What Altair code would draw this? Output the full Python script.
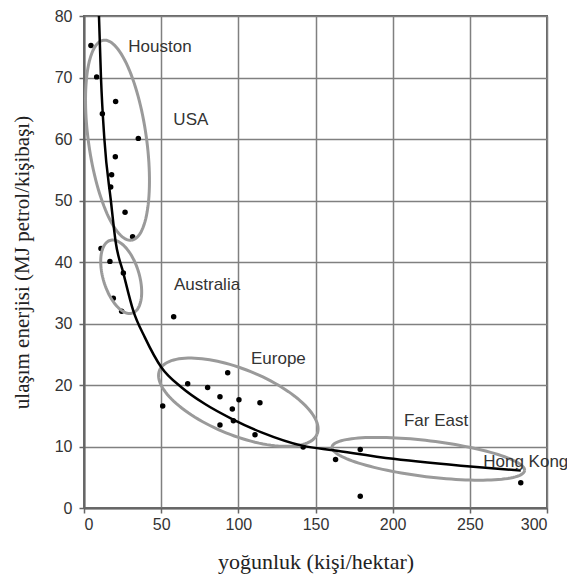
import altair as alt
import numpy as np
import pandas as pd

# ---- scatter data (density, transport energy) ----
pt_x = [4.5, 8.2, 11.9, 20.5, 35.2, 20.3, 17.9, 17.3, 26.6, 31.5,
        11.0, 16.8, 25.5, 19.0, 24.4,
        58.1,
        51.0, 67.2, 80.1, 93.1, 88.1, 100.4, 96.1, 114.0, 96.8, 88.1, 110.8,
        142.0, 163.0, 179.0, 179.0, 283.0]
pt_y = [75.2, 70.1, 64.1, 66.1, 60.1, 57.1, 54.2, 52.2, 48.1, 44.1,
        42.2, 40.1, 38.2, 34.1, 32.0,
        31.1,
        16.6, 20.2, 19.6, 22.0, 18.1, 17.6, 16.1, 17.1, 14.2, 13.5, 11.9,
        9.9, 7.9, 9.5, 1.9, 4.1]

# ---- fitted curve ----
curve_x = [9.7, 11.0, 13.2, 17.4, 20.5, 25.5, 32.0, 39.5, 50.3, 63.3, 78.4,
           95.7, 115.0, 142.0, 161.5, 200.4, 252.3, 283.0]
curve_y = [80.0, 70.0, 60.0, 50.0, 43.3, 38.2, 32.0, 27.7, 22.8, 19.6, 16.9,
           14.5, 12.3, 10.1, 9.4, 8.0, 6.7, 6.1]

# ---- group labels ----
label_text = ["Houston", "USA", "Australia", "Europe", "Far East", "Hong Kong"]
label_x = [28.7, 57.9, 58.3, 108.2, 207.3, 258.7]
label_y = [74.9, 63.1, 36.2, 24.2, 14.2, 7.5]

# ---- group ellipses: centre (data units), semi-axes (px), rotation (deg) ----
ell_name = ["Houston/USA", "Australia", "Europe", "Far East"]
ell_cx = [21.7, 24.1, 100.0, 223.1]
ell_cy = [59.8, 37.6, 17.2, 8.0]
ell_a = [101, 38, 85, 97]
ell_b = [29, 18, 33, 18]
ell_rot = [82, 73, 22, 7]

W, H = 463, 492
SX, SY = W / 300.0, H / 80.0

rows = []
t = np.linspace(0, 2 * np.pi, 121)
for n, cx, cy, a, b, r in zip(ell_name, ell_cx, ell_cy, ell_a, ell_b, ell_rot):
    th = np.deg2rad(r)
    dx = a * np.cos(t) * np.cos(th) - b * np.sin(t) * np.sin(th)
    dy = a * np.cos(t) * np.sin(th) + b * np.sin(t) * np.cos(th)
    for i in range(len(t)):
        rows.append({"g": n, "i": i, "x": cx + dx[i] / SX, "y": cy - dy[i] / SY})
ell_df = pd.DataFrame(rows)

pts = pd.DataFrame({"x": pt_x, "y": pt_y})
crv = pd.DataFrame({"x": curve_x, "y": curve_y})
lbl = pd.DataFrame({"t": label_text, "x": label_x, "y": label_y})

xs = alt.Scale(domain=[0, 300], nice=False)
ys = alt.Scale(domain=[0, 80], nice=False)

xax = alt.Axis(values=[0, 50, 100, 150, 200, 250, 300], title="yoğunluk (kişi/hektar)",
               titleY=53, titleBaseline="middle", titleFontSize=22)
yax = alt.Axis(values=[0, 10, 20, 30, 40, 50, 60, 70, 80],
               title="ulaşım enerjisi (MJ petrol/kişibaşı)",
               titleX=-62, titleBaseline="middle", titleAngle=270, titleFontSize=21)

points = alt.Chart(pts).mark_circle(size=30, color="black", opacity=1).encode(
    x=alt.X("x:Q", scale=xs, axis=xax),
    y=alt.Y("y:Q", scale=ys, axis=yax),
)

ellipses = alt.Chart(ell_df).mark_line(color="#9a9a9a", strokeWidth=3).encode(
    x=alt.X("x:Q", scale=xs),
    y=alt.Y("y:Q", scale=ys),
    detail="g:N",
    order="i:Q",
)

curve = alt.Chart(crv).mark_line(color="black", strokeWidth=2.5, interpolate="monotone").encode(
    x=alt.X("x:Q", scale=xs),
    y=alt.Y("y:Q", scale=ys),
)

labels = alt.Chart(lbl).mark_text(align="left", baseline="middle", font="Liberation Sans",
                                  fontSize=17, color="#333333").encode(
    x=alt.X("x:Q", scale=xs),
    y=alt.Y("y:Q", scale=ys),
    text="t:N",
)

chart = alt.layer(points, ellipses, curve, labels).properties(
    width=W, height=H,
    autosize=alt.AutoSizeParams(type="none"),
    padding={"left": 76, "top": 8, "right": 20, "bottom": 67},
).configure_view(
    stroke="#666666", strokeWidth=2,
).configure_axis(
    grid=True, gridColor="#808080", gridWidth=1.5,
    domainColor="#666666", domainWidth=2,
    tickColor="#666666", tickWidth=1.5, tickSize=5,
    labelFont="Liberation Sans", labelFontSize=16, labelColor="#333333",
    titleFont="Liberation Serif", titleFontWeight="normal",
    titleColor="#222222",
).configure_axisX(labelPadding=3).configure_axisY(labelPadding=7)

chart.save("out.html", embed_options={"renderer": "svg", "actions": False})
